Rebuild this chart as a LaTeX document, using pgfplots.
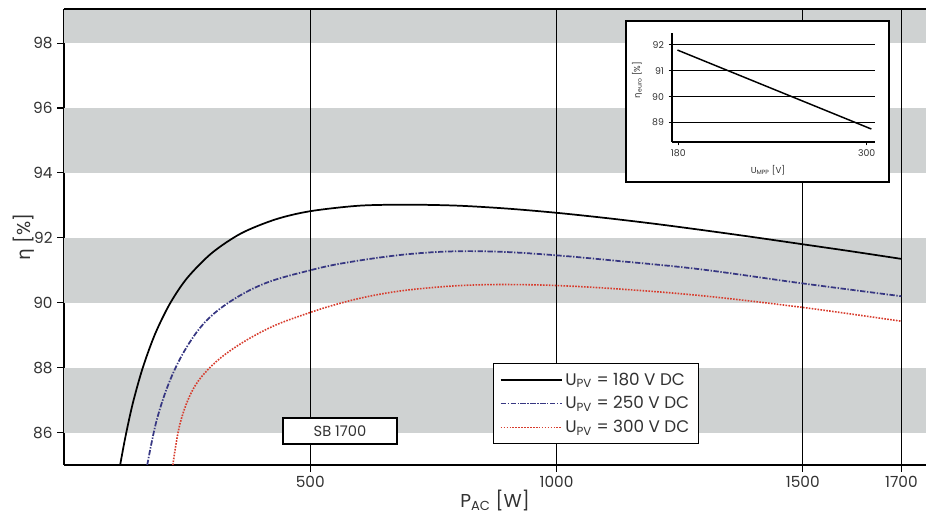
\documentclass[border=0pt]{standalone}
\usepackage{pgfplots}
\pgfplotsset{compat=1.18}
\usepackage{fontspec}
\setmainfont{Poppins}
\newfontfamily\grk{DejaVu Sans}
\definecolor{band}{RGB}{207,210,210}
\definecolor{txt}{RGB}{50,50,50}
\definecolor{upvb}{RGB}{55,55,130}
\definecolor{upvr}{RGB}{215,60,45}

\begin{document}
\begin{tikzpicture}[x=1pt,y=1pt]
\begin{axis}[
    width=646.5pt, height=342pt, scale only axis,
    xmin=0, xmax=1750, ymin=85, ymax=99.05,
    axis x line=bottom, axis y line=left,
    axis line style={-, line width=1pt},
    y axis line style={line width=1.6pt},
    xtick={500,1000,1500,1700}, ytick={86,88,...,98},
    tick align=outside, major tick length=5pt,
    tick style={black, line width=0.8pt},
    tick label style={font=\fontsize{11.5}{13}\selectfont, text=txt},
    /pgf/number format/assume math mode=true,
    /pgf/number format/1000 sep={},
    xlabel={P\textsubscript{AC} [W]},
    ylabel={{\grk η} [\%]},
    label style={font=\fontsize{14}{16}\selectfont, text=txt},
    xlabel style={at={(axis description cs:0.5,-0.079)}, anchor=center},
    ylabel style={at={(axis description cs:-0.0464,0.5)}, anchor=center},
    legend style={at={(0.4977,0.2237)}, anchor=north west, draw=black,
      line width=0.8pt, fill=white, font=\fontsize{12.6}{13}\selectfont,
      text=txt, inner xsep=5pt, inner ysep=5pt, row sep=3pt,
      cells={anchor=west}},
    legend image code/.code={\draw[#1, line width=0.8pt] (0pt,0pt) -- (46pt,0pt);},
  ]
  % grey bands
  \fill[band] (axis cs:0,86) rectangle (axis cs:1750,88);
  \fill[band] (axis cs:0,90) rectangle (axis cs:1750,92);
  \fill[band] (axis cs:0,94) rectangle (axis cs:1750,96);
  \fill[band] (axis cs:0,98) rectangle (axis cs:1750,99.05);
  % vertical lines
  \draw[black, line width=0.8pt] (axis cs:500,85) -- (axis cs:500,99.05);
  \draw[black, line width=0.8pt] (axis cs:1000,85) -- (axis cs:1000,99.05);
  \draw[black, line width=0.8pt] (axis cs:1500,85) -- (axis cs:1500,99.05);
  \draw[black, line width=0.8pt] (axis cs:1700,85) -- (axis cs:1700,99.05);
  \draw[black, line width=1pt] (rel axis cs:0,1) -- (rel axis cs:1,1);
  \draw[black, line width=1.6pt] (rel axis cs:0,0) -- ++(0,-7pt);

  \addplot[black, line width=1.3pt, smooth, tension=0.5] coordinates {
    (114,85.0) (125,85.89) (140,86.92) (160,88.0) (185,89.04) (215,89.97)
    (250,90.76) (300,91.53) (360,92.14) (430,92.57) (500,92.82) (600,92.99)
    (700,93.02) (800,92.99) (900,92.9) (1000,92.77) (1100,92.61)
    (1200,92.43) (1300,92.23) (1400,92.02) (1500,91.8) (1600,91.58)
    (1700,91.35)};
  \addlegendentry{U\textsubscript{PV} = 180 V DC}
  \addplot[upvb, line width=1.3pt, smooth, tension=0.6,
    dash pattern=on 4pt off 1.2pt on 1pt off 1.2pt] coordinates {
    (169,85.0) (188,86.37) (215,87.6) (249,88.63) (290,89.46) (344,90.1)
    (412,90.62) (500,91.0) (571,91.23) (682,91.47) (784,91.58) (885,91.57)
    (1000,91.46) (1129,91.28) (1292,91.03) (1497,90.6) (1700,90.2)};
  \addlegendentry{U\textsubscript{PV} = 250 V DC}
  \addplot[upvr, line width=1.2pt, smooth, tension=0.6,
    dash pattern=on 1.2pt off 1pt] coordinates {
    (221,85.0) (236,86.3) (263,87.36) (303,88.1) (357,88.72) (425,89.28)
    (500,89.7) (560,89.98) (620,90.2) (682,90.36) (750,90.47) (820,90.54)
    (900,90.56) (1000,90.53) (1129,90.42) (1292,90.22) (1497,89.86)
    (1700,89.43)};
  \addlegendentry{U\textsubscript{PV} = 300 V DC}
\end{axis}

% SB 1700 label
\node[draw=black, line width=0.8pt, fill=white, minimum width=85.5pt,
  minimum height=19.5pt, inner sep=0pt, text=txt,
  font=\fontsize{11}{12}\selectfont] at (207pt,25.5pt) {SB 1700};

% inset
\draw[black, line width=0.8pt, fill=white] (421.5pt,212.25pt) rectangle (618.75pt,333pt);
\begin{axis}[
    at={(456pt,242.25pt)}, anchor=south west,
    width=152.25pt, height=81.75pt, scale only axis,
    xmin=176, xmax=305.3, ymin=88.25, ymax=92.46,
    axis x line=bottom, axis y line=left,
    axis line style={-, line width=0.8pt},
    xtick={180,300}, ytick={89,90,91,92},
    ymajorgrids, grid style={black, line width=0.8pt},
    tick align=outside, major tick length=2.5pt,
    tick style={black, line width=0.6pt},
    tick label style={font=\fontsize{7}{8}\selectfont, text=txt},
    /pgf/number format/assume math mode=true,
    xlabel={U\textsubscript{MPP} [V]},
    ylabel={{\grk η}\textsubscript{euro} [\%]},
    label style={font=\fontsize{6.5}{7}\selectfont, text=txt},
    xlabel style={at={(axis description cs:0.473,-0.257)}, anchor=center},
    ylabel style={at={(axis description cs:-0.172,0.569)}, anchor=center},
  ]
  \addplot[black, line width=1.1pt] coordinates {(179.5,91.8) (303,88.75)};
\end{axis}

\pgfresetboundingbox
\path (-48pt,-38.25pt) rectangle (646.5pt,348.75pt);
\end{tikzpicture}
\end{document}
